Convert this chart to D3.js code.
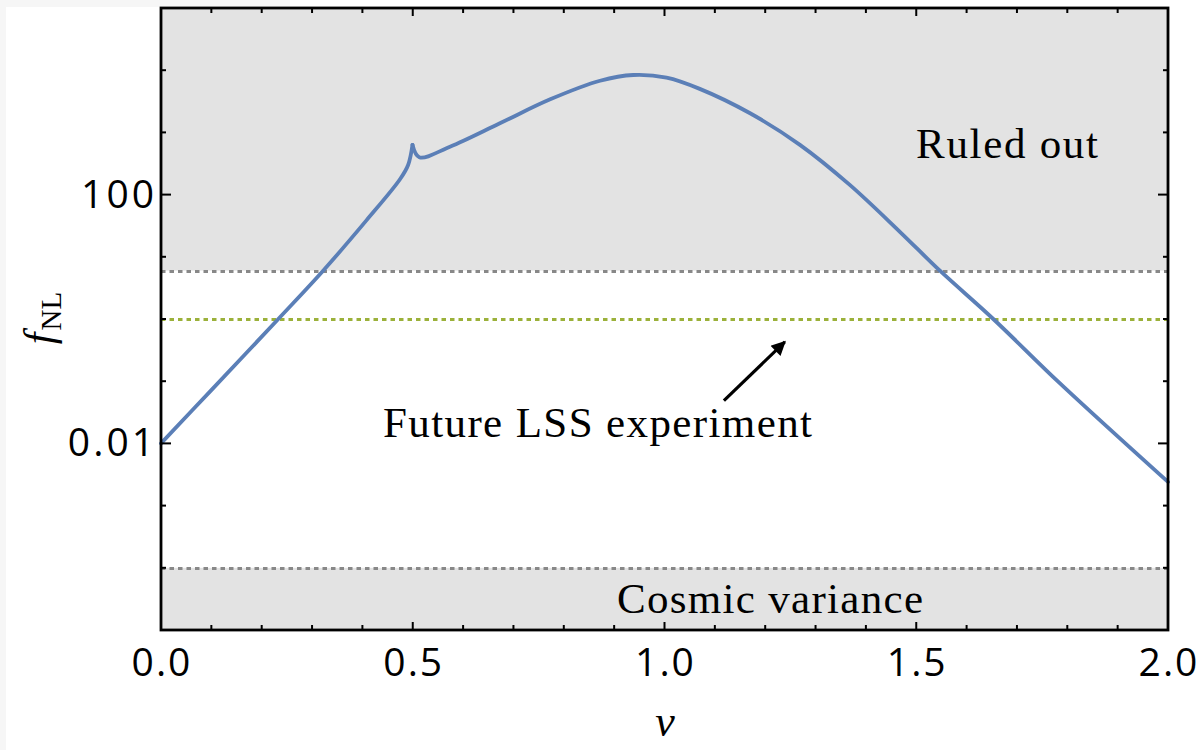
<!DOCTYPE html>
<html>
<head>
<meta charset="utf-8">
<script src="https://cdn.jsdelivr.net/npm/d3@7"></script>
<style>
  html, body { margin: 0; padding: 0; background: #fff; }
  svg { display: block; }
</style>
</head>
<body>
<div id="chart"></div>
<script>
// f_NL versus nu, log y axis

const width = 1204;
const height = 750;

// curve (the spike at nu ~ 0.5 splits it in two)
const nuValues = [0.00, 0.10, 0.233, 0.322, 0.408, 0.475, 0.491, 0.4995, 0.513, 0.574,
  0.673, 0.773, 0.872, 0.938, 1.004, 1.070, 1.170, 1.269, 1.368, 1.468, 1.547, 1.653, 1.785, 2.00];
const fnlValues = [0.01, 0.072, 1, 5.97, 38.5, 178, 302, 631, 398, 589,
  1400, 3400, 6760, 8375, 7590, 5010, 2030, 631, 143, 25, 5.97, 1, 0.093, 0.0024];
const cuspIndex = 7;

// bounds
const ruledOutLevel = 6;
const futureLevel = 1;
const cosmicLevel = 1e-4;

// axes
const xMajorTicks = [0, 0.5, 1.0, 1.5, 2.0];
const xMinorTicks = d3.range(0, 2.0001, 0.1);
const yDecadeTicks = [1e-4, 1e-3, 1e-2, 1e-1, 1, 10, 100, 1e3, 1e4];
const yLabelTicks = [0.01, 100];
const yLabelText = ["0.01", "100"];

// annotation arrow (data coords): start, end
const arrowFrom = [1.118, 0.0486];
const arrowTo = [1.239, 0.43];

const pLeft = 161, pRight = 1168, pTop = 8, pBottom = 630;

const x = d3.scaleLinear().domain([0, 2]).range([pLeft, pRight]);
const y = d3.scaleLog().domain([1e-5, 1e5]).range([pBottom, pTop]);

const svg = d3.select("#chart")
  .append("svg")
  .attr("width", width)
  .attr("height", height);

// faint screenshot margin on the left
svg.append("rect").attr("x", 0).attr("y", 0).attr("width", 6).attr("height", height).attr("fill", "#f6f6f6");
svg.append("rect").attr("x", 0).attr("y", 0).attr("width", 290).attr("height", 7).attr("fill", "#f6f6f6");

const grey = "#e3e3e3";

// shaded regions
svg.append("rect")
  .attr("x", pLeft).attr("y", pTop)
  .attr("width", pRight - pLeft)
  .attr("height", y(ruledOutLevel) - pTop)
  .attr("fill", grey);

svg.append("rect")
  .attr("x", pLeft).attr("y", y(cosmicLevel))
  .attr("width", pRight - pLeft)
  .attr("height", pBottom - y(cosmicLevel))
  .attr("fill", grey);

// dashed bound lines
const bounds = [
  { v: ruledOutLevel, c: "#888888" },
  { v: futureLevel, c: "#9bb13a" },
  { v: cosmicLevel, c: "#888888" }
];
svg.selectAll("line.bound")
  .data(bounds)
  .enter().append("line")
  .attr("class", "bound")
  .attr("x1", pLeft).attr("x2", pRight)
  .attr("y1", d => Math.round(y(d.v)) + 0.5).attr("y2", d => Math.round(y(d.v)) + 0.5)
  .attr("stroke", d => d.c)
  .attr("stroke-width", 3)
  .attr("stroke-dasharray", "4.5,4");

// the curve, drawn as two smooth pieces meeting at the spike
const pts = nuValues.map((n, i) => [n, fnlValues[i]]);
const line = d3.line()
  .x(d => x(d[0]))
  .y(d => y(d[1]))
  .curve(d3.curveCatmullRom.alpha(0.5));

[pts.slice(0, cuspIndex + 1), pts.slice(cuspIndex)].forEach(seg => {
  svg.append("path")
    .datum(seg)
    .attr("d", line)
    .attr("fill", "none")
    .attr("stroke", "#5b7fb7")
    .attr("stroke-width", 3.8)
    .attr("stroke-linejoin", "round")
    .attr("stroke-linecap", "round");
});

// frame ticks
const tickG = svg.append("g").attr("stroke", "#000").attr("stroke-width", 2);

xMinorTicks.forEach(t => {
  const major = xMajorTicks.some(m => Math.abs(m - t) < 1e-6);
  const len = major ? 8 : 5;
  tickG.append("line").attr("x1", x(t)).attr("x2", x(t)).attr("y1", pBottom).attr("y2", pBottom - len);
  tickG.append("line").attr("x1", x(t)).attr("x2", x(t)).attr("y1", pTop).attr("y2", pTop + len);
});

yDecadeTicks.forEach(t => {
  const major = yLabelTicks.includes(t);
  const len = major ? 10 : 5;
  tickG.append("line").attr("y1", y(t)).attr("y2", y(t)).attr("x1", pLeft).attr("x2", pLeft + len);
  tickG.append("line").attr("y1", y(t)).attr("y2", y(t)).attr("x1", pRight).attr("x2", pRight - len);
});

// frame
svg.append("rect")
  .attr("x", pLeft).attr("y", pTop)
  .attr("width", pRight - pLeft).attr("height", pBottom - pTop)
  .attr("fill", "none")
  .attr("stroke", "#000")
  .attr("stroke-width", 2.8);

// tick labels
const tickFont = "'Open Sans', sans-serif";
svg.selectAll("text.xlab")
  .data(xMajorTicks)
  .enter().append("text")
  .attr("class", "xlab")
  .attr("x", d => x(d) + 1)
  .attr("y", 676)
  .attr("text-anchor", "middle")
  .attr("font-family", tickFont)
  .attr("font-size", 39)
  .attr("letter-spacing", 2)
  .attr("fill", "#000")
  .text(d => d.toFixed(1));

svg.selectAll("text.ylab")
  .data(yLabelTicks)
  .enter().append("text")
  .attr("class", "ylab")
  .attr("x", 157)
  .attr("y", d => y(d) + 13)
  .attr("text-anchor", "end")
  .attr("font-family", tickFont)
  .attr("font-size", 39)
  .attr("letter-spacing", 3)
  .attr("fill", "#000")
  .text((d, i) => yLabelText[i]);

// axis titles
const serif = "'Liberation Serif', 'DejaVu Serif', serif";
const yTitle = svg.append("text")
  .attr("transform", "translate(53,318) rotate(-90)")
  .attr("text-anchor", "middle")
  .attr("font-family", serif)
  .attr("font-size", 42)
  .attr("fill", "#000");
yTitle.append("tspan").attr("font-style", "italic").text("f");
yTitle.append("tspan").attr("font-size", 29).attr("dy", 8).attr("dx", 2).text("NL");

svg.append("text")
  .attr("x", 665)
  .attr("y", 736)
  .attr("text-anchor", "middle")
  .attr("font-family", serif)
  .attr("font-style", "italic")
  .attr("font-size", 44)
  .attr("fill", "#000")
  .text("ν");

// region labels
svg.append("text")
  .attr("x", 916).attr("y", 158)
  .attr("font-family", serif).attr("font-size", 43)
  .attr("textLength", 182).attr("lengthAdjust", "spacing")
  .text("Ruled out");

svg.append("text")
  .attr("x", 383).attr("y", 437)
  .attr("font-family", serif).attr("font-size", 43)
  .attr("textLength", 429).attr("lengthAdjust", "spacing")
  .text("Future LSS experiment");

svg.append("text")
  .attr("x", 617).attr("y", 613)
  .attr("font-family", serif).attr("font-size", 43)
  .attr("textLength", 306).attr("lengthAdjust", "spacing")
  .text("Cosmic variance");

// arrow
svg.append("defs").append("marker")
  .attr("id", "head")
  .attr("viewBox", "0 0 10 10")
  .attr("refX", 9).attr("refY", 5)
  .attr("markerWidth", 5).attr("markerHeight", 4.5)
  .attr("markerUnits", "strokeWidth")
  .attr("orient", "auto")
  .append("path")
  .attr("d", "M0,0 L10,5 L0,10 Z")
  .attr("fill", "#000");

svg.append("line")
  .attr("x1", x(arrowFrom[0])).attr("y1", y(arrowFrom[1]))
  .attr("x2", x(arrowTo[0])).attr("y2", y(arrowTo[1]))
  .attr("stroke", "#000")
  .attr("stroke-width", 3.2)
  .attr("marker-end", "url(#head)");
</script>
</body>
</html>
